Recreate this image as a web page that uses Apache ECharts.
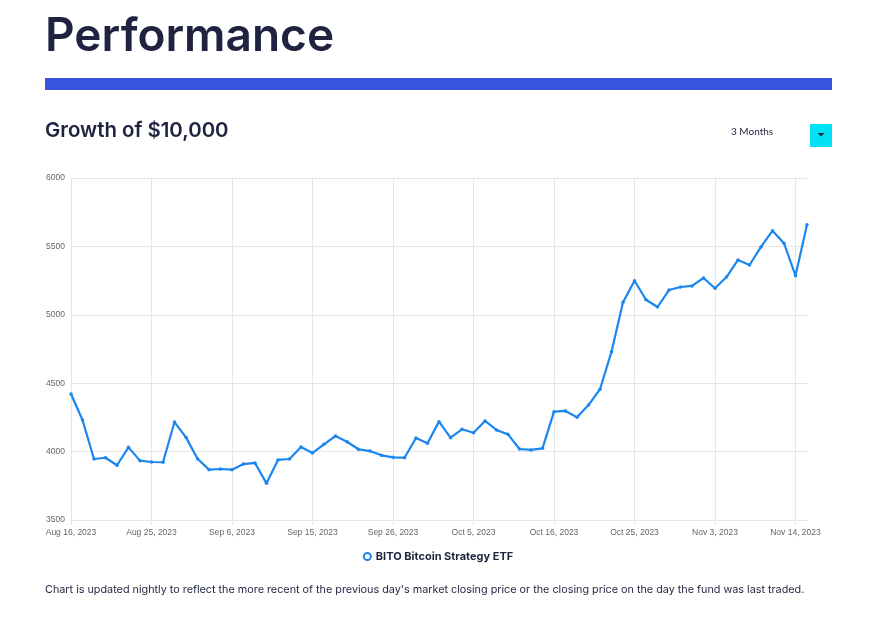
<!DOCTYPE html>
<html>
<head>
<meta charset="utf-8">
<script src="https://cdn.jsdelivr.net/npm/echarts@6/dist/echarts.min.js"></script>
<style>
html,body{margin:0;padding:0;background:#fff;}
#chart{width:876px;height:618px;}
</style>
</head>
<body>
<div id="chart"></div>
<script>
const categories = [
  'Aug 16, 2023','Aug 17, 2023','Aug 18, 2023','Aug 21, 2023','Aug 22, 2023','Aug 23, 2023','Aug 24, 2023','Aug 25, 2023',
  'Aug 28, 2023','Aug 29, 2023','Aug 30, 2023','Aug 31, 2023','Sep 1, 2023',
  'Sep 5, 2023','Sep 6, 2023','Sep 7, 2023','Sep 8, 2023',
  'Sep 11, 2023','Sep 12, 2023','Sep 13, 2023','Sep 14, 2023','Sep 15, 2023',
  'Sep 18, 2023','Sep 19, 2023','Sep 20, 2023','Sep 21, 2023','Sep 22, 2023',
  'Sep 25, 2023','Sep 26, 2023','Sep 27, 2023','Sep 28, 2023','Sep 29, 2023',
  'Oct 2, 2023','Oct 3, 2023','Oct 4, 2023','Oct 5, 2023','Oct 6, 2023',
  'Oct 9, 2023','Oct 10, 2023','Oct 11, 2023','Oct 12, 2023','Oct 13, 2023',
  'Oct 16, 2023','Oct 17, 2023','Oct 18, 2023','Oct 19, 2023','Oct 20, 2023',
  'Oct 23, 2023','Oct 24, 2023','Oct 25, 2023','Oct 26, 2023','Oct 27, 2023',
  'Oct 30, 2023','Oct 31, 2023','Nov 1, 2023','Nov 2, 2023','Nov 3, 2023',
  'Nov 6, 2023','Nov 7, 2023','Nov 8, 2023','Nov 9, 2023','Nov 10, 2023',
  'Nov 13, 2023','Nov 14, 2023','Nov 15, 2023'
];
const bitoValues = [
  4421, 4231, 3946, 3955, 3900, 4031, 3934, 3924,
  3922, 4216, 4104, 3948, 3868,
  3873, 3868, 3909, 3917,
  3768, 3939, 3946, 4034, 3990,
  4053, 4114, 4072, 4017, 4004,
  3973, 3958, 3955, 4099, 4061,
  4219, 4102, 4163, 4138, 4224,
  4158, 4126, 4019, 4012, 4024,
  4292, 4297, 4251, 4340, 4456,
  4730, 5091, 5249, 5110, 5057,
  5181, 5203, 5211, 5269, 5194,
  5276, 5401, 5364, 5496, 5615,
  5523, 5286, 5659
];
const yTicks = { min: 3500, max: 6000, interval: 500 };
const seriesName = 'BITO Bitcoin Strategy ETF';
const pageTitle = 'Performance';
const subTitle = 'Growth of $10,000';
const periodLabel = '3 Months';
const footnote = "Chart is updated nightly to reflect the more recent of the previous day's market closing price or the closing price on the day the fund was last traded.";

const lineColor = '#1a86ee';
const chart = echarts.init(document.getElementById('chart'), null, {renderer: 'canvas'});
chart.setOption({
  animation: false,
  backgroundColor: '#ffffff',
  grid: { left: 71, right: 69, top: 178, bottom: 98, containLabel: false },
  xAxis: {
    type: 'category',
    data: categories,
    boundaryGap: false,
    axisLine: { show: true, lineStyle: { color: '#e6e6e6', width: 1 } },
    axisTick: { show: true, interval: 6, length: 5, lineStyle: { color: '#e6e6e6' } },
    axisLabel: { interval: 6, color: '#666666', fontSize: 8.5, fontFamily: 'Liberation Sans, Arial, sans-serif', margin: 8 },
    splitLine: { show: true, interval: 6, lineStyle: { color: '#e6e6e6', width: 1 } }
  },
  yAxis: {
    type: 'value',
    min: yTicks.min, max: yTicks.max, interval: yTicks.interval,
    axisLine: { show: false },
    axisTick: { show: false },
    axisLabel: { color: '#666666', fontSize: 8.5, fontFamily: 'Liberation Sans, Arial, sans-serif', margin: 6, formatter: function (v) { return String(v); } },
    splitLine: { show: true, lineStyle: { color: '#e6e6e6', width: 1 } }
  },
  legend: {
    show: true,
    bottom: 51,
    left: 'center',
    icon: 'circle',
    itemWidth: 7, itemHeight: 7, itemGap: 10,
    itemStyle: { color: '#ffffff', borderColor: lineColor, borderWidth: 2 },
    textStyle: { color: '#1f2340', fontSize: 11, fontWeight: 'bold', fontFamily: 'Inter, Noto Sans, sans-serif' },
    data: [seriesName]
  },
  series: [{
    name: seriesName,
    type: 'line',
    data: bitoValues,
    symbol: 'circle',
    symbolSize: 3.5,
    showSymbol: true,
    itemStyle: { color: lineColor },
    lineStyle: { color: lineColor, width: 2.2 }
  }],
  graphic: [
    { type: 'text', left: 45, top: 14, style: { text: pageTitle, fill: '#1f2340', font: '600 46px Inter, "Noto Sans", sans-serif' } },
    { type: 'rect', shape: { x: 45, y: 78, width: 787, height: 12 }, style: { fill: '#3957de' } },
    { type: 'text', left: 45, top: 121, style: { text: subTitle, fill: '#1f2340', font: '600 20.4px Inter, "Noto Sans", sans-serif' } },
    { type: 'text', left: 731, top: 127, style: { text: periodLabel, fill: '#1f2340', font: '10px Lato, "Noto Sans", sans-serif' } },
    { type: 'rect', shape: { x: 810, y: 124, width: 22, height: 23 }, style: { fill: '#00e1f6' } },
    { type: 'polygon', shape: { points: [[817.5, 133], [824.5, 133], [821, 136.5]] }, style: { fill: '#1f2340' } },
    { type: 'text', left: 45, top: 584, style: { text: footnote, fill: '#1f2340', font: '10.8px Inter, "Noto Sans", sans-serif' } }
  ]
});
</script>
</body>
</html>
